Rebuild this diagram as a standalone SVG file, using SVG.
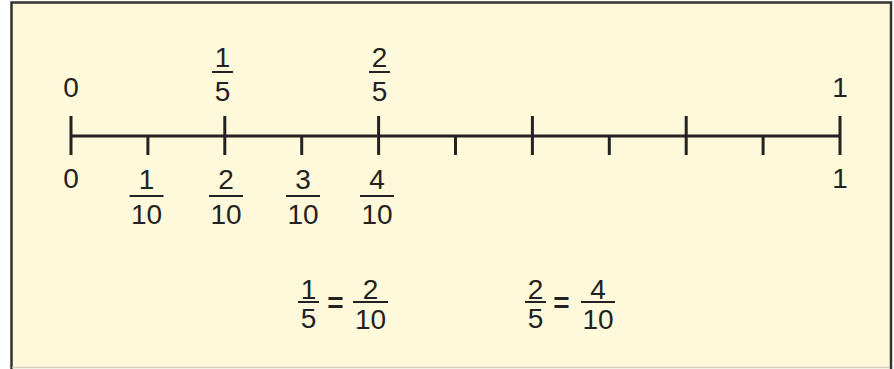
<svg xmlns="http://www.w3.org/2000/svg" width="894" height="369" viewBox="0 0 894 369">
<style>
  text { font-family: "Liberation Sans", Arial, sans-serif; font-size: 28px; fill: #222; text-anchor: middle; }
  .eq { font-weight: bold; }
  .axis { stroke: #222; stroke-width: 3; fill: none; }
  .bar { stroke: #222; stroke-width: 2; }
</style>
<g id="frame">
  <rect x="11.5" y="2.5" width="879.5" height="366" fill="#fff9db"/>
  <path d="M11.5 369 V2.5 H891 V369" fill="none" stroke="#333" stroke-width="2.5"/>
  <line x1="12" y1="367.5" x2="890" y2="367.5" stroke="#cfcdbf" stroke-width="1.5"/>
</g>
<g id="connectors">
  <line class="axis" x1="71" y1="136" x2="840" y2="136"/>
  <g class="axis">
    <line x1="71" y1="116" x2="71" y2="155"/>
    <line x1="224.8" y1="116" x2="224.8" y2="155"/>
    <line x1="378.6" y1="116" x2="378.6" y2="155"/>
    <line x1="532.4" y1="116" x2="532.4" y2="155"/>
    <line x1="686.2" y1="116" x2="686.2" y2="155"/>
    <line x1="840" y1="116" x2="840" y2="155"/>
    <line x1="147.9" y1="136" x2="147.9" y2="155"/>
    <line x1="301.7" y1="136" x2="301.7" y2="155"/>
    <line x1="455.5" y1="136" x2="455.5" y2="155"/>
    <line x1="609.3" y1="136" x2="609.3" y2="155"/>
    <line x1="763.1" y1="136" x2="763.1" y2="155"/>
  </g>
</g>
<g id="top-labels">
  <text x="71" y="97">0</text>
  <text x="840" y="97">1</text>
  <g id="top-1-5">
    <text x="222.5" y="67">1</text>
    <line class="bar" x1="212" y1="72" x2="233" y2="72"/>
    <text x="222.5" y="101">5</text>
  </g>
  <g id="top-2-5">
    <text x="379.5" y="67">2</text>
    <line class="bar" x1="369" y1="72" x2="390" y2="72"/>
    <text x="379.5" y="101">5</text>
  </g>
</g>
<g id="bottom-labels">
  <text x="71" y="188">0</text>
  <text x="840" y="188">1</text>
  <g id="b-1-10">
    <text x="146.5" y="189">1</text>
    <line class="bar" x1="129.5" y1="196" x2="163.5" y2="196"/>
    <text x="146.5" y="224">10</text>
  </g>
  <g id="b-2-10">
    <text x="226" y="189">2</text>
    <line class="bar" x1="209" y1="196" x2="243" y2="196"/>
    <text x="226" y="224">10</text>
  </g>
  <g id="b-3-10">
    <text x="303" y="189">3</text>
    <line class="bar" x1="286" y1="196" x2="320" y2="196"/>
    <text x="303" y="224">10</text>
  </g>
  <g id="b-4-10">
    <text x="377" y="189">4</text>
    <line class="bar" x1="360" y1="196" x2="394" y2="196"/>
    <text x="377" y="224">10</text>
  </g>
</g>
<g id="equation-1">
  <text x="308.5" y="299">1</text>
  <line class="bar" x1="298" y1="302" x2="319" y2="302"/>
  <text x="308.5" y="328">5</text>
  <text class="eq" x="335.5" y="312">=</text>
  <text x="370.5" y="299">2</text>
  <line class="bar" x1="353" y1="302" x2="388" y2="302"/>
  <text x="370.5" y="329">10</text>
</g>
<g id="equation-2">
  <text x="535.5" y="299">2</text>
  <line class="bar" x1="525" y1="302" x2="546" y2="302"/>
  <text x="535.5" y="328">5</text>
  <text class="eq" x="561.5" y="312">=</text>
  <text x="598" y="299">4</text>
  <line class="bar" x1="581" y1="302" x2="615" y2="302"/>
  <text x="598" y="329">10</text>
</g>
</svg>
